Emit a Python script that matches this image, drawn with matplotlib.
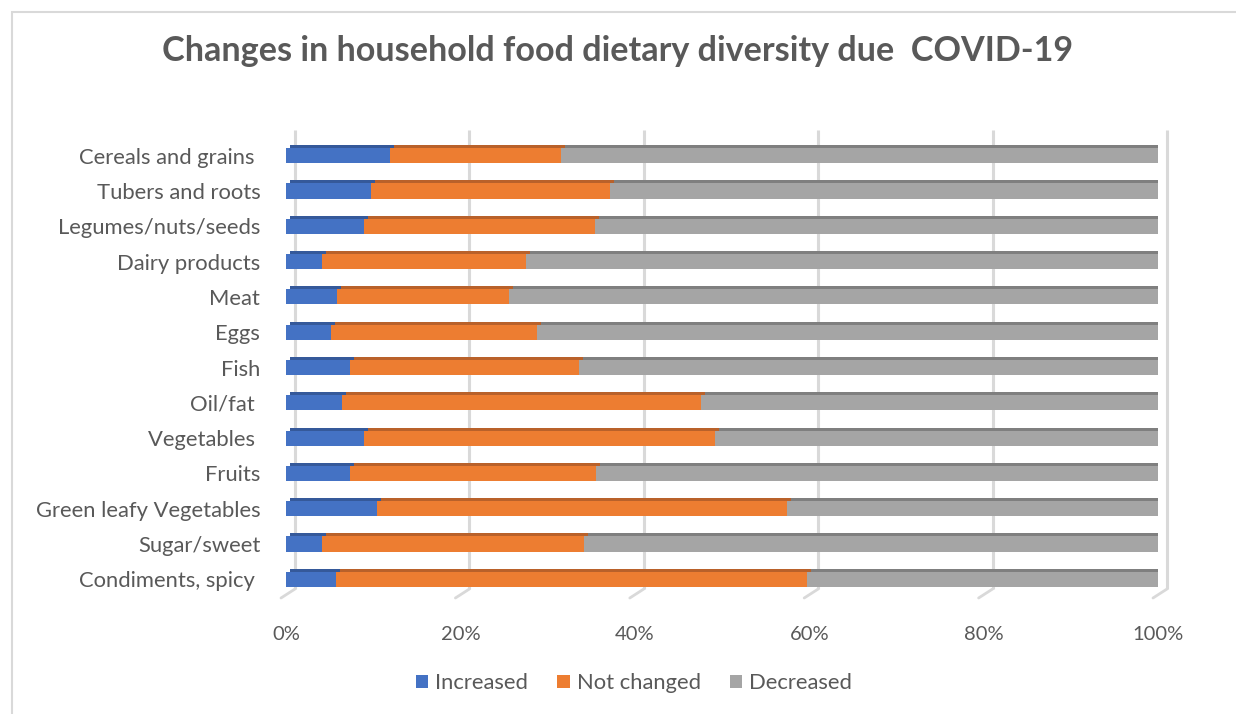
import numpy as np
import matplotlib
matplotlib.use("Agg")
import matplotlib.pyplot as plt
import matplotlib.transforms as mtransforms
from matplotlib.patches import Patch, Rectangle

# Food groups, top to bottom
categories = [
    "Cereals and grains ",
    "Tubers and roots",
    "Legumes/nuts/seeds",
    "Dairy products",
    "Meat",
    "Eggs",
    "Fish",
    "Oil/fat ",
    "Vegetables ",
    "Fruits",
    "Green leafy Vegetables",
    "Sugar/sweet",
    "Condiments, spicy ",
]

# Share of households (%)
increased   = [11.9, 9.7, 8.9, 4.1, 5.8, 5.2, 7.3, 6.4, 8.9, 7.3, 10.4, 4.1, 5.7]
not_changed = [19.6, 27.4, 26.5, 23.4, 19.8, 23.6, 26.3, 41.2, 40.3, 28.3, 47.1, 30.1, 54.1]
decreased   = [68.5, 62.9, 64.6, 72.5, 74.4, 71.2, 66.4, 52.4, 50.8, 64.4, 42.5, 65.8, 40.2]

series_names = ["Increased", "Not changed", "Decreased"]
front_colors = ["#4472C4", "#ED7D31", "#A5A5A5"]
top_colors   = ["#35599A", "#B9612A", "#7F7F7F"]

xticks = [0, 20, 40, 60, 80, 100]
xtick_labels = ["0%", "20%", "40%", "60%", "80%", "100%"]

text_color = "#595959"
grid_color = "#D9D9D9"
plt.rcParams["font.family"] = ["Lato", "DejaVu Sans"]

fig = plt.figure(figsize=(12.36, 7.14), dpi=100)
fig.patch.set_facecolor("white")

# chart frame (runs off the right/bottom edge)
fig.patches.append(Rectangle((12 / 1236, -0.05), 1.2, 1 - 12 / 714 + 0.05,
                             transform=fig.transFigure, fill=False,
                             edgecolor="#D9D9D9", linewidth=1.5))

ax = fig.add_axes([286 / 1236, 117 / 714, 872 / 1236, 459 / 714])
ax.set_xlim(0, 100)
ax.set_ylim(len(categories) - 0.5, -0.5)
for s in ax.spines.values():
    s.set_visible(False)

y = np.arange(len(categories))
series = [np.array(increased), np.array(not_changed), np.array(decreased)]
bar_h = 0.43

# back wall gridlines, pushed back in depth
back = mtransforms.offset_copy(ax.get_xaxis_transform(), fig=fig, x=9, y=8, units="dots")
ax.vlines(xticks, 0, 1, transform=back, colors=grid_color, linewidth=2.2, zorder=0, clip_on=False)

# slanted floor ticks
for xt in xticks:
    ax.annotate("", xy=(xt, 0), xycoords=back, xytext=(-14, -9), textcoords="offset pixels",
                arrowprops=dict(arrowstyle="-", color=grid_color, lw=2.0, shrinkA=0, shrinkB=0),
                annotation_clip=False, zorder=0)

# top/side faces of the bars: same bars shifted up and right
depth = mtransforms.offset_copy(ax.transData, fig=fig, x=4, y=3, units="dots")
left = np.zeros(len(categories))
for vals, col in zip(series, top_colors):
    ax.barh(y, vals, left=left, height=bar_h, color=col, transform=depth, zorder=2, linewidth=0)
    left += vals

# front faces
left = np.zeros(len(categories))
for vals, col, name in zip(series, front_colors, series_names):
    ax.barh(y, vals, left=left, height=bar_h, color=col, zorder=3, linewidth=0, label=name)
    left += vals

ax.set_xticks(xticks)
ax.set_xticklabels(xtick_labels)
ax.set_yticks(y)
ax.set_yticklabels(categories)
ax.tick_params(axis="x", length=0, pad=21, labelsize=14.5, labelcolor=text_color)
ax.tick_params(axis="y", length=0, pad=18.5, labelsize=15.8, labelcolor=text_color)

fig.text(0.5, 1 - 51 / 714, "Changes in household food dietary diversity due  COVID-19",
         ha="center", va="center", fontsize=24.6, fontweight="bold", color=text_color)

handles = [Patch(facecolor=c, edgecolor="none") for c in front_colors]
fig.legend(handles, series_names, loc="center", bbox_to_anchor=(634 / 1236, 1 - 683 / 714),
           ncol=3, frameon=False, fontsize=15.8, labelcolor=text_color,
           handlelength=0.55, handleheight=0.55, handletextpad=0.32, columnspacing=1.35)

fig.savefig("out.png", dpi=100, facecolor="white")
